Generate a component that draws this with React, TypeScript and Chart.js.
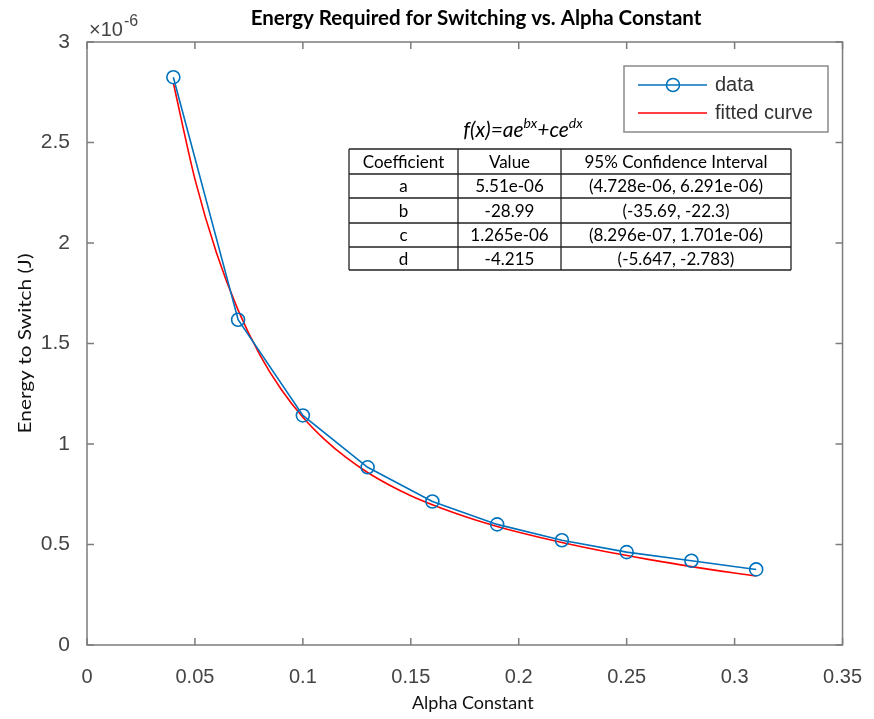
import React, { useEffect, useRef } from "react";
import { Chart, registerables } from "chart.js";

Chart.register(...registerables);

// ---- data ----
const alpha = [0.04, 0.07, 0.1, 0.13, 0.16, 0.19, 0.22, 0.25, 0.28, 0.31];
const energy = [2.825e-6, 1.618e-6, 1.142e-6, 0.884e-6, 0.714e-6, 0.6e-6, 0.521e-6, 0.462e-6, 0.419e-6, 0.376e-6];

const fitAlpha = [0.04, 0.05, 0.06, 0.07, 0.08, 0.09, 0.1, 0.11, 0.12, 0.13, 0.14, 0.15, 0.16, 0.17, 0.18, 0.19, 0.2, 0.22, 0.24, 0.26, 0.28, 0.31];
const fitEnergy = [2.796e-6, 2.318e-6, 1.95e-6, 1.666e-6, 1.445e-6, 1.271e-6, 1.133e-6, 1.023e-6, 0.933e-6, 0.858e-6, 0.796e-6, 0.743e-6, 0.698e-6, 0.658e-6, 0.622e-6, 0.59e-6, 0.561e-6, 0.51e-6, 0.465e-6, 0.426e-6, 0.39e-6, 0.343e-6];

const xTicks = [0, 0.05, 0.1, 0.15, 0.2, 0.25, 0.3, 0.35];
const yTicks = [0, 0.5e-6, 1e-6, 1.5e-6, 2e-6, 2.5e-6, 3e-6];
const xTickLabels = ["0", "0.05", "0.1", "0.15", "0.2", "0.25", "0.3", "0.35"];
const yTickLabels = ["0", "0.5", "1", "1.5", "2", "2.5", "3"];

const seriesNames = ["data", "fitted curve"];
const chartTitle = "Energy Required for Switching vs. Alpha Constant";
const xTitle = "Alpha Constant";
const yTitle = "Energy to Switch (J)";

const tableHeader = ["Coefficient", "Value", "95% Confidence Interval"];
const coefNames = ["a", "b", "c", "d"];
const coefValues = ["5.51e-06", "-28.99", "1.265e-06", "-4.215"];
const coefIntervals = ["(4.728e-06, 6.291e-06)", "(-35.69, -22.3)", "(8.296e-07, 1.701e-06)", "(-5.647, -2.783)"];

const BLUE = "#0072BD";
const RED = "#FF0000";
const AXIS = "#7c7c7c";
const TICKTXT = "#444444";
const SANS = "'Liberation Sans', Arial, sans-serif";
const HUM = "Lato, 'Open Sans', sans-serif";

const overlay = {
  id: "overlay",
  afterDraw(chart: any) {
    const ctx = chart.ctx as CanvasRenderingContext2D;
    const ca = chart.chartArea;
    const xs = chart.scales.x;
    const ys = chart.scales.y;
    ctx.save();

    // axes box
    ctx.strokeStyle = AXIS;
    ctx.lineWidth = 1.5;
    ctx.strokeRect(ca.left, ca.top, ca.right - ca.left, ca.bottom - ca.top);

    // inward tick marks
    const tl = 7;
    ctx.lineWidth = 1.5;
    ctx.beginPath();
    xTicks.forEach((v) => {
      const px = xs.getPixelForValue(v);
      ctx.moveTo(px, ca.bottom);
      ctx.lineTo(px, ca.bottom - tl);
      ctx.moveTo(px, ca.top);
      ctx.lineTo(px, ca.top + tl);
    });
    yTicks.forEach((v) => {
      const py = ys.getPixelForValue(v);
      ctx.moveTo(ca.left, py);
      ctx.lineTo(ca.left + tl, py);
      ctx.moveTo(ca.right, py);
      ctx.lineTo(ca.right - tl, py);
    });
    ctx.stroke();

    // title
    ctx.fillStyle = "#000";
    ctx.font = `bold 20.5px ${HUM}`;
    ctx.textAlign = "center";
    ctx.textBaseline = "middle";
    ctx.fillText(chartTitle, 476, 18);

    // exponent label
    ctx.fillStyle = TICKTXT;
    ctx.textAlign = "left";
    ctx.textBaseline = "alphabetic";
    ctx.font = `20px ${SANS}`;
    ctx.fillText("\u00d710", 89, 36);
    const w10 = ctx.measureText("\u00d710").width;
    ctx.font = `16px ${SANS}`;
    ctx.fillText("-6", 89 + w10 + 1, 26);

    // axis titles
    ctx.fillStyle = "#111";
    ctx.font = `18px ${HUM}`;
    ctx.textAlign = "center";
    ctx.textBaseline = "middle";
    ctx.fillText(xTitle, (ca.left + ca.right) / 2 + 8, 703);
    ctx.save();
    ctx.translate(25, (ca.top + ca.bottom) / 2);
    ctx.rotate(-Math.PI / 2);
    ctx.font = `18px ${HUM}`;
    const yw = ctx.measureText(yTitle).width;
    ctx.scale(180 / yw, 1);
    ctx.fillText(yTitle, 0, 0);
    ctx.restore();

    // legend
    const lx = 624, ly = 66, lw = 204, lh = 66;
    ctx.fillStyle = "#fff";
    ctx.fillRect(lx, ly, lw, lh);
    ctx.strokeStyle = "#8a8a8a";
    ctx.lineWidth = 1.5;
    ctx.strokeRect(lx, ly, lw, lh);
    ctx.lineWidth = 1.5;
    ctx.strokeStyle = BLUE;
    ctx.beginPath();
    ctx.moveTo(638, 85);
    ctx.lineTo(707, 85);
    ctx.stroke();
    ctx.beginPath();
    ctx.arc(673, 85, 6.5, 0, Math.PI * 2);
    ctx.stroke();
    ctx.strokeStyle = RED;
    ctx.beginPath();
    ctx.moveTo(638, 113);
    ctx.lineTo(707, 113);
    ctx.stroke();
    ctx.fillStyle = "#333";
    ctx.font = `20px ${SANS}`;
    ctx.textAlign = "left";
    ctx.textBaseline = "middle";
    ctx.fillText(seriesNames[0], 715, 85);
    ctx.fillText(seriesNames[1], 715, 113);

    // formula
    ctx.fillStyle = "#000";
    ctx.textBaseline = "alphabetic";
    const parts: [string, boolean][] = [["f(x)=ae", false], ["bx", true], ["+ce", false], ["dx", true]];
    const bigF = `italic 21px ${HUM}`;
    const smallF = `italic 14px ${HUM}`;
    let total = 0;
    parts.forEach(([t, sup]) => {
      ctx.font = sup ? smallF : bigF;
      total += ctx.measureText(t).width;
    });
    let cx = 523 - total / 2;
    parts.forEach(([t, sup]) => {
      ctx.font = sup ? smallF : bigF;
      ctx.fillText(t, cx, sup ? 128 : 137);
      cx += ctx.measureText(t).width;
    });

    // table
    const colX = [349, 458, 561, 791];
    const rowY = [149, 174, 198, 223, 247, 270];
    ctx.fillStyle = "#fff";
    ctx.fillRect(colX[0], rowY[0], colX[3] - colX[0], rowY[5] - rowY[0]);
    ctx.strokeStyle = "#222";
    ctx.lineWidth = 1.3;
    ctx.beginPath();
    colX.forEach((x) => {
      ctx.moveTo(x, rowY[0]);
      ctx.lineTo(x, rowY[5]);
    });
    rowY.forEach((y) => {
      ctx.moveTo(colX[0], y);
      ctx.lineTo(colX[3], y);
    });
    ctx.stroke();
    ctx.fillStyle = "#000";
    ctx.font = `17px ${HUM}`;
    ctx.textAlign = "center";
    ctx.textBaseline = "middle";
    const rows = [tableHeader, ...coefNames.map((n, i) => [n, coefValues[i], coefIntervals[i]])];
    rows.forEach((r, ri) => {
      const cy = (rowY[ri] + rowY[ri + 1]) / 2 + 1;
      r.forEach((t, ci) => {
        ctx.fillText(t, (colX[ci] + colX[ci + 1]) / 2, cy);
      });
    });

    ctx.restore();
  },
};

export default function App() {
  const ref = useRef<HTMLCanvasElement | null>(null);
  useEffect(() => {
    document.body.style.margin = "0";
    const canvas = ref.current!;
    const chart = new Chart(canvas, {
      type: "line",
      data: {
        datasets: [
          {
            label: seriesNames[1],
            data: fitAlpha.map((x, i) => ({ x, y: fitEnergy[i] })),
            borderColor: RED,
            borderWidth: 1.6,
            pointRadius: 0,
            cubicInterpolationMode: "monotone",
            fill: false,
            order: 1,
          },
          {
            label: seriesNames[0],
            data: alpha.map((x, i) => ({ x, y: energy[i] })),
            borderColor: BLUE,
            borderWidth: 1.6,
            pointRadius: 6.5,
            pointBorderWidth: 1.6,
            pointBackgroundColor: "rgba(0,0,0,0)",
            pointBorderColor: BLUE,
            pointStyle: "circle",
            tension: 0,
            fill: false,
            order: 0,
          },
        ],
      },
      options: {
        responsive: false,
        animation: false,
        layout: { padding: { top: 42, right: 26, left: 0, bottom: 0 } },
        plugins: {
          legend: { display: false },
          title: { display: false },
          tooltip: { enabled: false },
        },
        scales: {
          x: {
            type: "linear",
            min: 0,
            max: 0.35,
            afterBuildTicks: (s: any) => {
              s.ticks = xTicks.map((v) => ({ value: v }));
            },
            afterFit: (s: any) => {
              s.height = 74;
            },
            grid: { display: false },
            border: { display: false },
            ticks: {
              autoSkip: false,
              maxRotation: 0,
              padding: 12,
              color: TICKTXT,
              font: { family: SANS, size: 20 },
              callback: (_v: any, i: number) => xTickLabels[i],
            },
          },
          y: {
            type: "linear",
            min: 0,
            max: 3e-6,
            afterBuildTicks: (s: any) => {
              s.ticks = yTicks.map((v) => ({ value: v }));
            },
            afterFit: (s: any) => {
              s.width = 87;
            },
            grid: { display: false },
            border: { display: false },
            ticks: {
              autoSkip: false,
              padding: 9,
              color: TICKTXT,
              font: { family: SANS, size: 21 },
              callback: (_v: any, i: number) => yTickLabels[i],
            },
          },
        },
      },
      plugins: [overlay],
    } as any);
    return () => chart.destroy();
  }, []);
  return <canvas ref={ref} width={874} height={719} style={{ display: "block" }} />;
}
